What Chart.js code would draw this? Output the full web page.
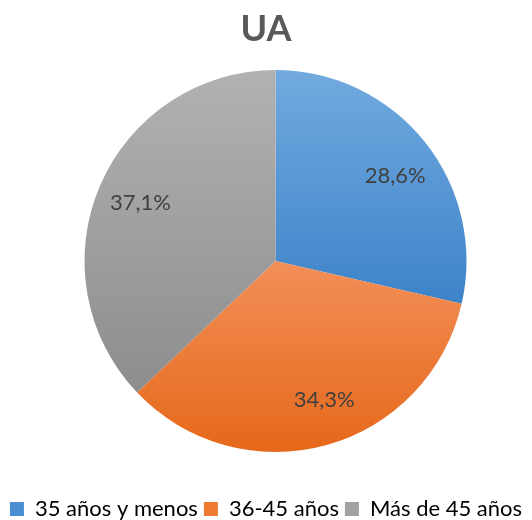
<!DOCTYPE html>
<html><head><meta charset="utf-8">
<script src="https://cdn.jsdelivr.net/npm/chart.js@4/dist/chart.umd.min.js"></script>
<style>html,body{margin:0;padding:0;background:#fff;}#c{display:block;}</style>
</head><body>
<canvas id="c" width="532" height="520"></canvas>
<script>
const title = "UA";
const categories = ["35 años y menos", "36-45 años", "Más de 45 años"];
const values = [28.6, 34.3, 37.1];
const valueLabels = ["28,6%", "34,3%", "37,1%"];
const topColors = ["#72aadf", "#f28f58", "#b2b2b2"];
const bottomColors = ["#3d83c9", "#e6681a", "#8d8d8d"];
const legendColors = ["#4a8fd2", "#ef7a32", "#a2a2a2"];
const FONT = "Lato, 'Open Sans', sans-serif";
const PIE_RADIUS = 191;
const LABEL_ANGLE_NUDGE = [3, -4, 0]; // degrees, label placement only

function pieGeom(chart) {
  const a = chart.chartArea;
  return { cx: (a.left + a.right) / 2, cy: (a.top + a.bottom) / 2 };
}

function sliceGradient(ctx) {
  const chart = ctx.chart, area = chart.chartArea;
  const i = ctx.dataIndex;
  if (!area || i === undefined) return legendColors[i] || '#999';
  const { cx, cy } = pieGeom(chart);
  const r = PIE_RADIUS;
  const total = values.reduce((a, b) => a + b, 0);
  let s = 0; for (let k = 0; k < i; k++) s += values[k];
  const a0 = -Math.PI / 2 + s / total * 2 * Math.PI;
  const a1 = a0 + values[i] / total * 2 * Math.PI;
  let ys = [cy, cy + r * Math.sin(a0), cy + r * Math.sin(a1)];
  for (const a of [-Math.PI / 2, Math.PI / 2, 3 * Math.PI / 2]) {
    if (a >= a0 && a <= a1) ys.push(cy + r * Math.sin(a));
  }
  const y0 = Math.min(...ys), y1 = Math.max(...ys);
  const g = chart.ctx.createLinearGradient(0, y0, 0, y1);
  g.addColorStop(0, topColors[i]);
  g.addColorStop(1, bottomColors[i]);
  return g;
}

const shiftPlugin = {
  id: 'pieShift',
  afterLayout(chart) {
    const a = chart.chartArea;
    const cx = (a.left + a.right) / 2, cy = (a.top + a.bottom) / 2;
    const dx = 275.5 - cx, dy = 261 - cy;
    a.left += 2 * dx > 0 ? 2 * dx : 0; a.right += 2 * dx < 0 ? 2 * dx : 0;
    a.top += 2 * dy > 0 ? 2 * dy : 0; a.bottom += 2 * dy < 0 ? 2 * dy : 0;
  }
};

const labelPlugin = {
  id: 'sliceLabels',
  afterDatasetsDraw(chart) {
    const meta = chart.getDatasetMeta(0);
    const c = chart.ctx;
    c.save();
    c.font = "22px " + FONT;
    c.fillStyle = "#404040";
    c.textAlign = "center";
    c.textBaseline = "middle";
    meta.data.forEach((arc, i) => {
      const mid = (arc.startAngle + arc.endAngle) / 2 + LABEL_ANGLE_NUDGE[i] * Math.PI / 180;
      const rr = arc.outerRadius * 0.77;
      c.fillText(valueLabels[i], arc.x + Math.cos(mid) * rr, arc.y + Math.sin(mid) * rr);
    });
    c.restore();
  }
};

new Chart(document.getElementById('c'), {
  type: 'pie',
  data: {
    labels: categories,
    datasets: [{ data: values, backgroundColor: sliceGradient, borderWidth: 0, radius: PIE_RADIUS, clip: false }]
  },
  options: {
    responsive: false,
    animation: false,
    layout: { padding: { top: 0, bottom: -10, left: 0, right: 0 } },
    plugins: {
      title: { display: true, text: title, color: "#595959", font: { family: FONT, size: 36, weight: 'bold' }, padding: { top: 8, bottom: 0 } },
      legend: {
        position: 'bottom',
        labels: {
          color: "#595959",
          font: { family: FONT, size: 22 },
          boxWidth: 14, boxHeight: 14, padding: 6,
          generateLabels: (chart) => categories.map((t, i) => ({ text: t, fillStyle: legendColors[i], strokeStyle: legendColors[i], lineWidth: 0, index: i, hidden: false }))
        }
      },
      tooltip: { enabled: false }
    }
  },
  plugins: [shiftPlugin, labelPlugin]
});
</script>
</body></html>
